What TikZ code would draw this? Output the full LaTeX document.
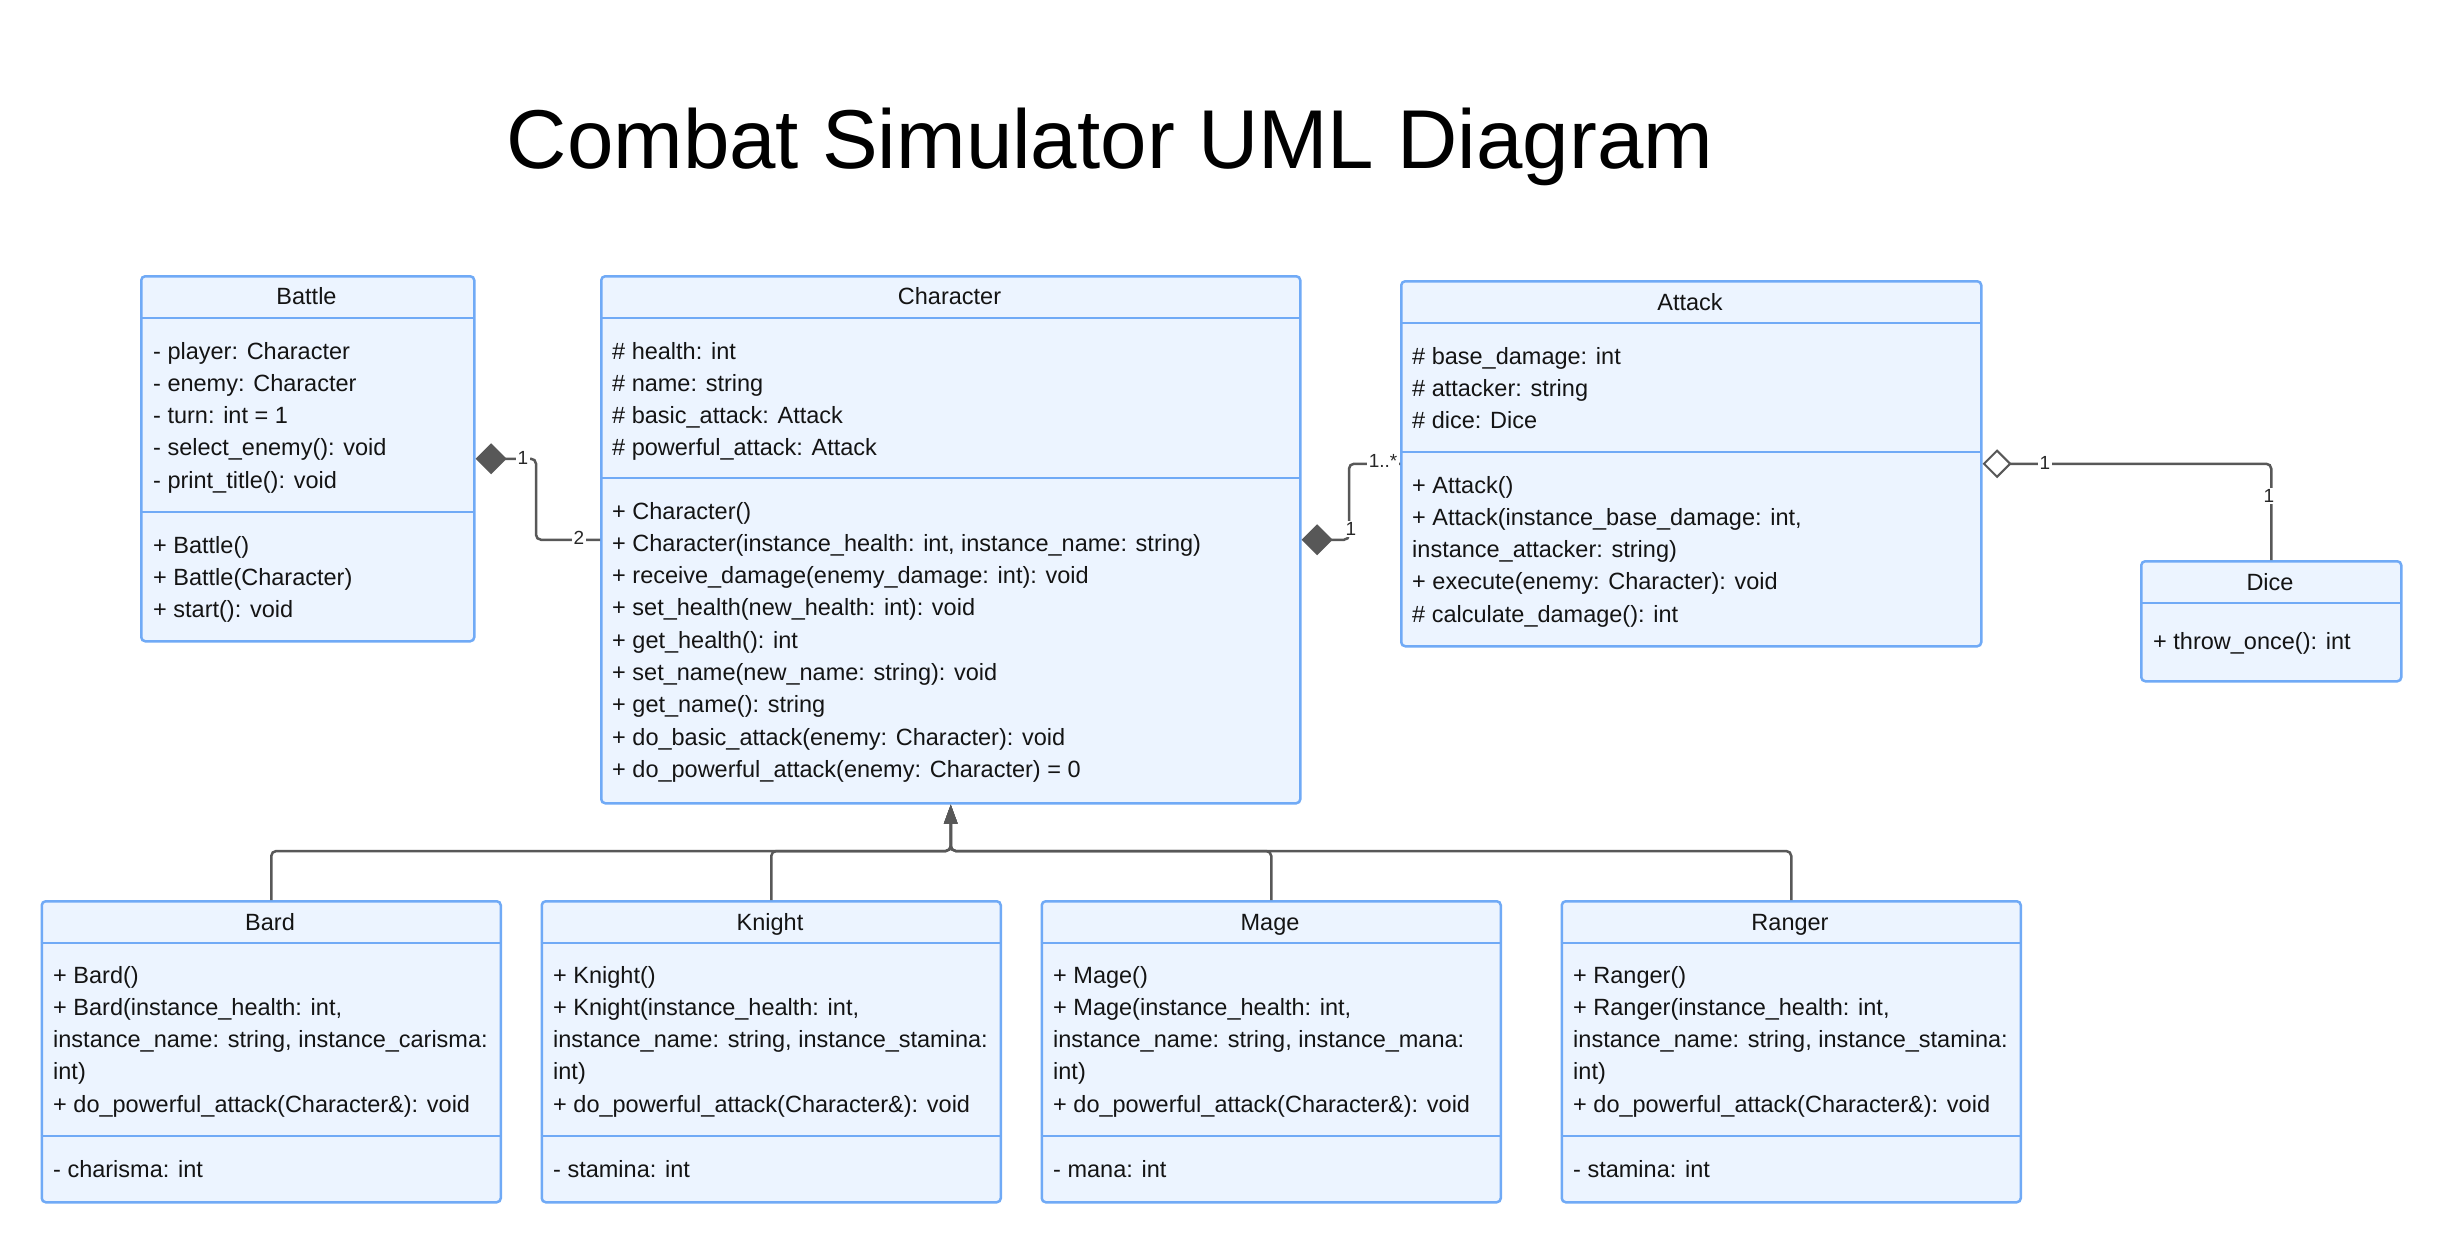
\documentclass[tikz,border=0pt]{standalone}
\usepackage{fontspec}
\setmainfont{Liberation Sans}
\usetikzlibrary{arrows.meta,calc}
\definecolor{boxfill}{RGB}{236,244,255}
\definecolor{boxline}{RGB}{112,170,246}
\definecolor{connc}{RGB}{88,88,88}
\definecolor{lblc}{RGB}{40,40,40}
\definecolor{txtc}{RGB}{20,20,20}
\newcommand\clslines[4]{%
  \foreach \t [count=\i from 0] in {#4}
    \node[txt] (#1\i) at (#2, #3+32.3*\i) {\t};}
\begin{document}
\begin{tikzpicture}[x=1pt,y=-1pt,
  classbox/.style={draw=boxline, fill=boxfill, line width=2.5pt, rounded corners=4pt, inner sep=0pt, anchor=north west},
  sepline/.style={draw=boxline, line width=2.5pt},
  txt/.style={anchor=base west, inner sep=0pt, text=txtc, font=\fontsize{23.5}{28}\selectfont},
  ttl/.style={anchor=base, inner sep=0pt, text=txtc, font=\fontsize{23.5}{28}\selectfont},
  conn/.style={draw=connc, line width=2.5pt, rounded corners=5pt},
  lab/.style={fill=white, inner sep=1.5pt, text=lblc, font=\fontsize{19}{21}\selectfont},
  comp/.style={-{Diamond[length=31pt,width=31pt,fill=connc]}},
  aggr/.style={-{Diamond[length=29pt,width=29pt,fill=white,line width=2pt]}},
  inh/.style={-{Triangle[length=19pt,width=13pt,fill=connc]}}
]
\useasboundingbox (0,0) rectangle (2440,1241);
\fill[white] (0,0) rectangle (2440,1241);

% title
\node[anchor=base, inner sep=0pt, font=\fontsize{83.5}{90}\selectfont] (title) at (1110,169) {Combat Simulator UML Diagram};

% Battle
\node[classbox, minimum width=333pt, minimum height=365pt] (battle) at (140,275) {};
\draw[sepline] (140,318) -- (473,318);
\draw[sepline] (140,512) -- (473,512);
\node[ttl] (battle-t) at (306.5,305) {Battle};
\clslines{bata}{153}{359}{{- player: Character},{- enemy: Character},{- turn: int = 1},{- select\_enemy(): void},{- print\_title(): void}}
\clslines{batm}{153}{553}{{+ Battle()},{+ Battle(Character)},{+ start(): void}}

% Character
\node[classbox, minimum width=699pt, minimum height=527pt] (character) at (600,275) {};
\draw[sepline] (600,318) -- (1299,318);
\draw[sepline] (600,478) -- (1299,478);
\node[ttl] (character-t) at (949.5,305) {Character};
\clslines{chara}{612}{359}{{\# health: int},{\# name: string},{\# basic\_attack: Attack},{\# powerful\_attack: Attack}}
\clslines{charm}{612}{519}{{+ Character()},{+ Character(instance\_health: int, instance\_name: string)},{+ receive\_damage(enemy\_damage: int): void},{+ set\_health(new\_health: int): void},{+ get\_health(): int},{+ set\_name(new\_name: string): void},{+ get\_name(): string},{+ do\_basic\_attack(enemy: Character): void},{+ do\_powerful\_attack(enemy: Character) = 0}}

% Attack
\node[classbox, minimum width=580pt, minimum height=365pt] (attack) at (1400,280) {};
\draw[sepline] (1400,323) -- (1980,323);
\draw[sepline] (1400,452) -- (1980,452);
\node[ttl] (attack-t) at (1690,310) {Attack};
\clslines{atta}{1412}{364}{{\# base\_damage: int},{\# attacker: string},{\# dice: Dice}}
\clslines{attm}{1412}{493}{{+ Attack()},{+ Attack(instance\_base\_damage: int,},{instance\_attacker: string)},{+ execute(enemy: Character): void},{\# calculate\_damage(): int}}

% Dice
\node[classbox, minimum width=260pt, minimum height=120pt] (dice) at (2140,560) {};
\draw[sepline] (2140,603) -- (2400,603);
\node[ttl] (dice-t) at (2270,590) {Dice};
\clslines{dicem}{2153}{649}{{+ throw\_once(): int}}

% Subclasses
\node[classbox, minimum width=459pt, minimum height=301pt] (bard) at (40.5,900) {};
\draw[sepline] (40.5,943) -- (499.5,943);
\draw[sepline] (40.5,1136) -- (499.5,1136);
\node[ttl] (bard-t) at (270,930) {Bard};
\clslines{bardm}{53}{983}{{+ Bard()},{+ Bard(instance\_health: int,},{instance\_name: string, instance\_carisma:},{int)},{+ do\_powerful\_attack(Character\&): void}}
\clslines{barda}{53}{1177}{{- charisma: int}}

\node[classbox, minimum width=459pt, minimum height=301pt] (knight) at (540.5,900) {};
\draw[sepline] (540.5,943) -- (999.5,943);
\draw[sepline] (540.5,1136) -- (999.5,1136);
\node[ttl] (knight-t) at (770,930) {Knight};
\clslines{knim}{553}{983}{{+ Knight()},{+ Knight(instance\_health: int,},{instance\_name: string, instance\_stamina:},{int)},{+ do\_powerful\_attack(Character\&): void}}
\clslines{knia}{553}{1177}{{- stamina: int}}

\node[classbox, minimum width=459pt, minimum height=301pt] (mage) at (1040.5,900) {};
\draw[sepline] (1040.5,943) -- (1499.5,943);
\draw[sepline] (1040.5,1136) -- (1499.5,1136);
\node[ttl] (mage-t) at (1270,930) {Mage};
\clslines{magm}{1053}{983}{{+ Mage()},{+ Mage(instance\_health: int,},{instance\_name: string, instance\_mana:},{int)},{+ do\_powerful\_attack(Character\&): void}}
\clslines{maga}{1053}{1177}{{- mana: int}}

\node[classbox, minimum width=459pt, minimum height=301pt] (ranger) at (1560.5,900) {};
\draw[sepline] (1560.5,943) -- (2019.5,943);
\draw[sepline] (1560.5,1136) -- (2019.5,1136);
\node[ttl] (ranger-t) at (1790,930) {Ranger};
\clslines{ranm}{1573}{983}{{+ Ranger()},{+ Ranger(instance\_health: int,},{instance\_name: string, instance\_stamina:},{int)},{+ do\_powerful\_attack(Character\&): void}}
\clslines{rana}{1573}{1177}{{- stamina: int}}

% connectors
\draw[conn, comp] (character.west) -- ++(-64,0) |- (battle.east);
\draw[conn, comp] (attack.west) -- ++(-51,0) |- (character.east);
\draw[conn, aggr] (dice.north) |- (attack.east);
\draw[conn, inh] (bard.north) -- ++(0,-49) -| (character.south);
\draw[conn, inh] (knight.north) -- ++(0,-49) -| (character.south);
\draw[conn, inh] (mage.north) -- ++(0,-49) -| (character.south);
\draw[conn, inh] (ranger.north) -- ++(0,-49) -| (character.south);

% multiplicities
\node[lab] (m1) at (523,458) {1};
\node[lab] (m2) at (579,538) {2};
\node[lab] (m3) at (1351,529) {1};
\node[lab] (m4) at (1383,461) {1..*};
\node[lab] (m5) at (2045,463) {1};
\node[lab] (m6) at (2269,496) {1};
\end{tikzpicture}
\end{document}
